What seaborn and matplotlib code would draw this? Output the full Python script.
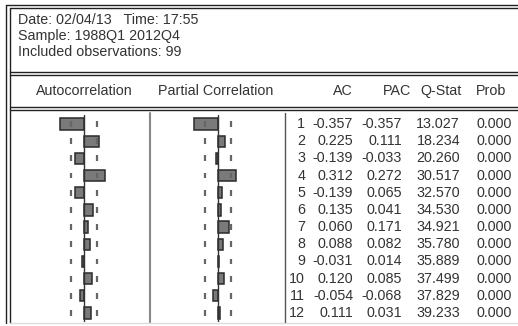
import numpy as np
import matplotlib
matplotlib.use('Agg')
import matplotlib.pyplot as plt
import seaborn as sns

# correlogram values (EViews output)
lags = [1, 2, 3, 4, 5, 6, 7, 8, 9, 10, 11, 12]
ac = [-0.357, 0.225, -0.139, 0.312, -0.139, 0.135, 0.060, 0.088, -0.031, 0.120, -0.054, 0.111]
pac = [-0.357, 0.111, -0.033, 0.272, 0.065, 0.041, 0.171, 0.082, 0.014, 0.085, -0.068, 0.031]
qstat = [13.027, 18.234, 20.260, 30.517, 32.570, 34.530, 34.921, 35.780, 35.889, 37.499, 37.829, 39.233]
prob = [0.000] * 12
n_obs = 99
header_lines = ['Date: 02/04/13   Time: 17:55', 'Sample: 1988Q1 2012Q4', 'Included observations: 99']
col_titles = ['AC', 'PAC', 'Q-Stat', 'Prob']

sns.set_style('white')
plt.rcParams['font.family'] = ['Liberation Sans', 'DejaVu Sans']
FS = 10.3

W, H = 518, 326
fig = plt.figure(figsize=(W / 100, H / 100), dpi=100)
fig.patch.set_facecolor('white')

# background axes in pixel coords for frame and headers
bg = fig.add_axes([0, 0, 1, 1])
bg.set_xlim(0, W)
bg.set_ylim(H, 0)
bg.axis('off')

ink = '#333333'
bg.plot([6, 6], [5, 323], color='#222222', lw=1.0)
bg.plot([10, 10], [8, 323], color='#222222', lw=1.0)
bg.plot([6, W], [5, 5], color='#222222', lw=1.0)
bg.plot([10, W], [8, 8], color='#222222', lw=1.0)
for y in (72, 75, 107, 110):
    bg.plot([10, W], [y, y], color='#222222', lw=1.0)
bg.plot([10, W], [323, 323], color='#dddddd', lw=1.0)

for i, line in enumerate(header_lines):
    bg.text(18, 20.5 + i * 15.5, line, fontsize=FS, color=ink, va='center', ha='left')

bg.text(84, 91, 'Autocorrelation', fontsize=FS, color=ink, va='center', ha='center')
bg.text(216, 91, 'Partial Correlation', fontsize=FS, color=ink, va='center', ha='center')
for x, t in zip([343, 397, 441, 491], col_titles):
    bg.text(x, 91, t, fontsize=FS, color=ink, va='center', ha='center')

# panel dividers
bg.plot([150, 150], [113, 322], color='#888888', lw=1.5)
bg.plot([285, 285], [113, 322], color='#555555', lw=1.0)

top_px, bot_px = 115.4, 321.6
def px_axes(x0, x1):
    return fig.add_axes([x0 / W, (H - bot_px) / H, (x1 - x0) / W, (bot_px - top_px) / H])

bound = 2 / np.sqrt(n_obs)
n = len(lags)

for x0, vals in [(17, ac), (151, pac)]:
    ax = px_axes(x0, x0 + 134)
    ax.patch.set_alpha(0)
    sns.barplot(x=vals, y=[str(l) for l in lags], orient='h', ax=ax,
                color='#7a7a7a', saturation=1, edgecolor='#2a2a2a',
                linewidth=1.1, width=0.66)
    ax.set_xlim(-1, 1)
    ax.set_ylim(n - 0.5, -0.5)
    ax.axvline(0, color='#333333', lw=1.0, zorder=5)
    idx = np.arange(n)
    ax.vlines([-bound] * n, idx - 0.17, idx + 0.17, color='#666666', lw=1.6)
    ax.vlines([bound] * n, idx - 0.17, idx + 0.17, color='#666666', lw=1.6)
    ax.axis('off')

# statistics table
tab = px_axes(285, W)
tab.patch.set_alpha(0)
tab.set_xlim(285, W)
tab.set_ylim(n - 0.5, -0.5)
tab.axis('off')
for i in range(n):
    row = [f'{lags[i]}', f'{ac[i]:.3f}', f'{pac[i]:.3f}', f'{qstat[i]:.3f}', f'{prob[i]:.3f}']
    for x, t in zip([305, 353, 402, 460, 512], row):
        tab.text(x, i, t, fontsize=FS, color=ink, va='center', ha='right')

fig.savefig('out.png', dpi=100)
